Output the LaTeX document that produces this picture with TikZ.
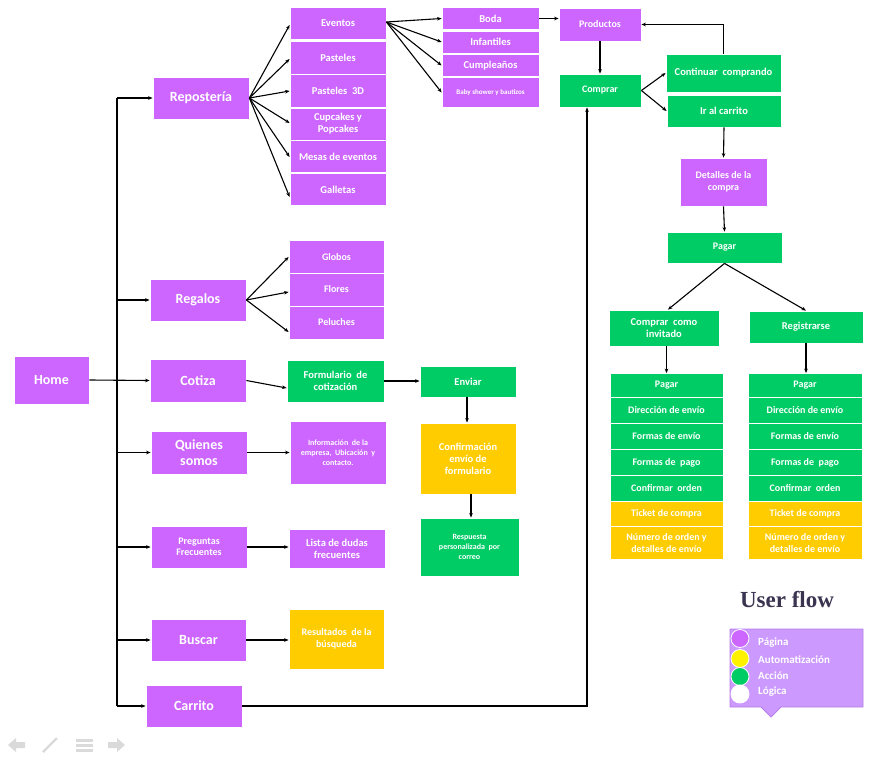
\documentclass[tikz,border=0pt]{standalone}
\usepackage{fontspec}
\setmainfont{Carlito}
\newfontfamily\titlefont{Liberation Serif}
\usetikzlibrary{arrows.meta,calc}
\definecolor{pagecol}{HTML}{CC66FF}
\definecolor{actcol}{HTML}{00CC66}
\definecolor{autocol}{HTML}{FFCC00}
\definecolor{legbg}{HTML}{CC99FF}
\definecolor{legline}{HTML}{B57EE8}
\definecolor{titlecol}{HTML}{3B3450}
\definecolor{navgray}{HTML}{DADADA}
\tikzset{
  box/.style={rectangle, draw=white, line width=0.8pt, text=white, align=center, inner sep=1pt},
  pg/.style={box, fill=pagecol},
  ac/.style={box, fill=actcol},
  au/.style={box, fill=autocol},
  sz/.style 2 args={minimum width=#1pt, minimum height=#2pt},
  fL/.style={font=\fontsize{14}{15.5}\selectfont\bfseries},
  fM/.style={font=\fontsize{10.5}{12}\selectfont\bfseries},
  fN/.style={font=\fontsize{10}{11.5}\selectfont\bfseries},
  fS/.style={font=\fontsize{8}{10}\selectfont\bfseries},
  fXS/.style={font=\fontsize{7}{8}\selectfont\bfseries},
  arr/.style={-{Stealth[length=4.5pt,width=3.6pt]}, line width=1.1pt, black},
  ln/.style={line width=1.1pt, black},
  dot/.style={circle, draw=white, line width=0.8pt, minimum size=18pt, inner sep=0pt},
  legtext/.style={text=white, anchor=west, inner sep=0pt, font=\fontsize{11}{12}\selectfont\bfseries},
}
\begin{document}
\begin{tikzpicture}[x=1pt,y=-1pt]
\useasboundingbox (0,0) rectangle (876,762);

% ---- main menu ----
\node[pg, sz={75}{48}, fL] (home) at (51.5,380) {Home};
\node[pg, sz={96}{42}, fL] (repo) at (201,98) {Repostería};
\node[pg, sz={96}{42}, fL] (regalos) at (198,300) {Regalos};
\node[pg, sz={96}{43}, fL] (cotiza) at (198,380.5) {Cotiza};
\node[pg, sz={96}{43}, fL] (quienes) at (199,452.5) {Quienes\\somos};
\node[pg, sz={96}{42}, fN] (preg) at (199,547) {Preguntas\\Frecuentes};
\node[pg, sz={95}{42}, fL] (buscar) at (198.5,640) {Buscar};
\node[pg, sz={96}{42}, fL] (carrito) at (194,706) {Carrito};

% ---- repostería ----
\node[pg, sz={96}{32}, fM] (eventos) at (338,23.5) {Eventos};
\node[pg, sz={96}{33}, fM] (pasteles) at (338,57.5) {Pasteles};
\node[pg, sz={96}{33}, fM] (p3d) at (338,91) {Pasteles~~3D};
\node[pg, sz={96}{32}, fM] (cupcakes) at (338,124) {Cupcakes y\\Popcakes};
\node[pg, sz={96}{32}, fM] (mesas) at (338,156.5) {Mesas de eventos};
\node[pg, sz={96}{32}, fM] (galletas) at (338,189.5) {Galletas};

\node[pg, sz={97}{22}, fM] (boda) at (490.5,18.5) {Boda};
\node[pg, sz={97}{22}, fM] (infantiles) at (490.5,42) {Infantiles};
\node[pg, sz={97}{22}, fM] (cumple) at (490.5,65.5) {Cumpleaños};
\node[pg, sz={97}{30}, fXS] (baby) at (490.5,92.5) {Baby shower y bautizos};

% ---- compra ----
\node[pg, sz={82}{33}, fN] (productos) at (600,24.5) {Productos};
\node[ac, sz={82}{33}, fN] (comprar) at (600,90.5) {Comprar};
\node[ac, sz={115}{38}, fM] (continuar) at (723.5,73) {Continuar~~comprando};
\node[ac, sz={114}{32}, fM] (ircarrito) at (724,111) {Ir al carrito};
\node[pg, sz={87}{48}, fN] (detalles) at (723.5,182) {Detalles de la\\compra};
\node[ac, sz={115}{31}, fN] (pagar) at (724.5,247.5) {Pagar};
\node[ac, sz={110}{36}, fM] (invitado) at (664,328) {Comprar~~como\\invitado};
\node[ac, sz={114}{32}, fM] (registro) at (806,327) {Registrarse};

% checkout steps, guest column
\node[ac, sz={113}{24}, fN] (la) at (666.5,385.5) {Pagar};
\node[ac, sz={113}{26}, fN] (lb) at (666.5,410.5) {Dirección de envío};
\node[ac, sz={113}{26}, fN] (lc) at (666.5,436.5) {Formas de envío};
\node[ac, sz={113}{26}, fN] (ld) at (666.5,462.5) {Formas de~~pago};
\node[ac, sz={113}{26}, fN] (le) at (666.5,488.5) {Confirmar~~orden};
\node[au, sz={113}{25}, fN] (lf) at (666.5,514) {Ticket de compra};
\node[au, sz={113}{33}, fN] (lg) at (666.5,543) {Número de orden y\\detalles de envío};

% checkout steps, registered column
\node[ac, sz={114}{24}, fN] (ra) at (805,385.5) {Pagar};
\node[ac, sz={114}{26}, fN] (rb) at (805,410.5) {Dirección de envío};
\node[ac, sz={114}{26}, fN] (rc) at (805,436.5) {Formas de envío};
\node[ac, sz={114}{26}, fN] (rd) at (805,462.5) {Formas de~~pago};
\node[ac, sz={114}{26}, fN] (re) at (805,488.5) {Confirmar~~orden};
\node[au, sz={114}{25}, fN] (rf) at (805,514) {Ticket de compra};
\node[au, sz={114}{33}, fN] (rg) at (805,543) {Número de orden y\\detalles de envío};

% ---- regalos ----
\node[pg, sz={95}{33}, fN] (globos) at (336.5,257) {Globos};
\node[pg, sz={95}{33}, fN] (flores) at (336.5,289.5) {Flores};
\node[pg, sz={95}{33}, fN] (peluches) at (336.5,322.5) {Peluches};

% ---- cotiza ----
\node[ac, sz={97}{42}, fM] (formulario) at (335.5,381) {Formulario~~de\\cotización};
\node[ac, sz={96}{31}, fM] (enviar) at (468,381.5) {Enviar};
\node[au, sz={96}{71}, fM] (confirm) at (468,458.5) {Confirmación\\envío de\\formulario};
\node[ac, sz={99}{58}, fS] (respuesta) at (469.5,547) {Respuesta\\personalizada~~por\\correo};

% ---- others ----
\node[pg, sz={96}{63}, fS] (info) at (338,452.5) {Información~~de la\\empresa,~~Ubicación~~y\\contacto.};
\node[pg, sz={96}{39}, fM] (lista) at (337,548.5) {Lista de dudas\\frecuentes};
\node[au, sz={95}{60}, fN] (result) at (336.5,639) {Resultados~~de la\\búsqueda};

% ---- trunk from home ----
\coordinate (t1) at (117,98);
\coordinate (t2) at (117,300);
\coordinate (t3) at (117,452.5);
\coordinate (t4) at (117,547);
\coordinate (t5) at (117,640);
\coordinate (t6) at (117,706);
\draw[ln] (t1) -- (t6);
\draw[arr] (home.east) -- (cotiza.west);
\draw[arr] (t1) -- (repo.west);
\draw[arr] (t2) -- (regalos.west);
\draw[arr] (t3) -- (quienes.west);
\draw[arr] (t4) -- (preg.west);
\draw[arr] (t5) -- (buscar.west);
\draw[arr] (t6) -- (carrito.west);

% repostería fan
\foreach \n/\dy in {eventos/1.5, pasteles/1.5, p3d/0, cupcakes/-1, mesas/0.5, galletas/7.5}
  \draw[arr] (repo.east) -- ($(\n.west)+(0,\dy)$);
% eventos fan
\foreach \n in {boda, infantiles, cumple, baby}
  \draw[arr] ($(eventos.east)+(0,-1.5)$) -- (\n.west);
\draw[arr] (boda.east) -- (boda.east -| productos.west);

% purchase flow
\draw[arr] (productos.south) -- (comprar.north);
\draw[arr] (comprar.east) -- (continuar.west);
\draw[arr] (comprar.east) -- (ircarrito.west);
\draw[arr] (continuar.north) |- (productos.east);
\draw[arr] (ircarrito.south) -- (detalles.north);
\draw[arr] (detalles.south) -- (pagar.north);
\draw[arr] (pagar.south) -- ($(invitado.north)+(4,0)$);
\draw[arr] (pagar.south) -- (registro.north);
\draw[arr] (invitado.south -| la.north) -- (la.north);
\draw[arr] (registro.south) -- (registro.south |- ra.north);
\draw[arr] (carrito.east) -| ($(comprar.south)+(-13,0)$);

% regalos fan
\draw[arr] (regalos.east) -- (globos.west);
\draw[arr] (regalos.east) -- ($(flores.west)+(0,2.5)$);
\draw[arr] (regalos.east) -- ($(peluches.west)+(0,9.5)$);

% cotiza flow
\draw[arr] (cotiza.east) -- ($(formulario.west)+(0,7)$);
\draw[arr] (formulario.east) -- (formulario.east -| enviar.west);
\draw[arr] ($(enviar.south)+(-1,0)$) -- ($(confirm.north)+(-1,0)$);
\draw[arr] ($(confirm.south)+(3,0)$) -- ($(respuesta.north)+(1.5,0)$);

% remaining links
\draw[arr] (quienes.east) -- (info.west);
\draw[arr] (preg.east) -- (preg.east -| lista.west);
\draw[arr] (buscar.east) -- (buscar.east -| result.west);

% ---- legend ----
\node[font=\titlefont\fontsize{23}{25}\selectfont\bfseries, text=titlecol, inner sep=0pt] (title) at (787,600) {User flow};
\draw[legline, fill=legbg, line width=0.8pt]
  (730,629) -- (863,629) -- (863,707) -- (781,707) -- (771,717) -- (761,707) -- (730,707) -- cycle;
\node[dot, fill=pagecol] (d1) at (740,638.5) {};
\node[dot, fill=yellow] (d2) at (740,658.5) {};
\node[dot, fill=actcol] (d3) at (740,676.5) {};
\node[dot, fill=white] (d4) at (740,694) {};
\node[legtext] (l1) at (758,643) {Página};
\node[legtext] (l2) at (758,660) {Automatización};
\node[legtext] (l3) at (758,676) {Acción};
\node[legtext] (l4) at (758,692) {Lógica};

% ---- viewer controls ----
\fill[navgray] (8,745) -- (16,738) -- (16,742) -- (25,742) -- (25,748) -- (16,748) -- (16,752) -- cycle;
\draw[navgray, line width=2.2pt] (43,752) -- (57,738);
\fill[navgray] (76,739) rectangle (93,741.5);
\fill[navgray] (76,744) rectangle (93,746.5);
\fill[navgray] (76,749) rectangle (93,751.5);
\fill[navgray] (125,745) -- (117,738) -- (117,742) -- (108,742) -- (108,748) -- (117,748) -- (117,752) -- cycle;
\end{tikzpicture}
\end{document}
